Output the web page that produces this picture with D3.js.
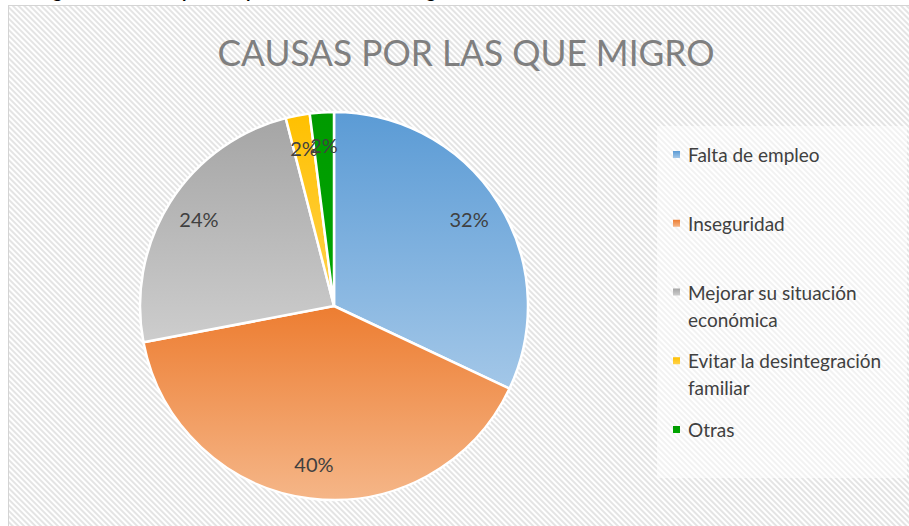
<!DOCTYPE html>
<html>
<head>
<meta charset="utf-8">
<script src="https://cdn.jsdelivr.net/npm/d3@7"></script>
<style>
  body { margin: 0; background: #fff; }
</style>
</head>
<body>
<div id="d3-container"></div>
<script>
const categories = ["Falta de empleo", "Inseguridad", "Mejorar su situación económica", "Evitar la desintegración familiar", "Otras"];
const values = [32, 40, 24, 2, 2];
const legendLines = [["Falta de empleo"], ["Inseguridad"], ["Mejorar su situación", "económica"], ["Evitar la desintegración", "familiar"], ["Otras"]];
const colorsTop = ["#5b9bd5", "#ed7d31", "#a5a5a5", "#ffc000", "#009a00"];
const colorsBottom = ["#a3c7e8", "#f5b688", "#cdcdcd", "#ffd24d", "#00a600"];
const title = "CAUSAS POR LAS QUE MIGRO";

function buildPie() {
    const width = 909;
    const height = 526;
    let dimensions = {
        cx: 334,
        cy: 306,
        radius: 194,
        labelRadius: 160
    };

    const svg = d3.select("#d3-container")
        .append("svg")
        .attr("width", width)
        .attr("height", height);

    const defs = svg.append("defs");

    // hatched chart background
    const pattern = defs.append("pattern")
        .attr("id", "hatch")
        .attr("patternUnits", "userSpaceOnUse")
        .attr("width", 4)
        .attr("height", 4)
        .attr("patternTransform", "rotate(-45)");
    pattern.append("rect").attr("width", 4).attr("height", 4).attr("fill", "#ffffff");
    pattern.append("rect").attr("width", 2).attr("height", 4).attr("fill", "#e4e4e4");

    categories.forEach(function(c, i) {
        const g = defs.append("linearGradient")
            .attr("id", "grad" + i)
            .attr("x1", 0).attr("y1", 0)
            .attr("x2", 0).attr("y2", 1);
        g.append("stop").attr("offset", "0%").attr("stop-color", colorsTop[i]);
        g.append("stop").attr("offset", "100%").attr("stop-color", colorsBottom[i]);
    });

    // clipped caption from the document above the chart
    svg.append("text")
        .attr("x", 38)
        .attr("y", -2)
        .attr("font-family", "Lato")
        .attr("font-weight", "bold")
        .attr("font-size", 18)
        .attr("fill", "#000")
        .text("Figura 7. Motivos por los que los encuestados migraron");

    svg.append("rect")
        .attr("x", 8.5)
        .attr("y", 5.5)
        .attr("width", 930)
        .attr("height", 540)
        .attr("fill", "url(#hatch)")
        .attr("stroke", "#d4d4d4");

    svg.append("text")
        .attr("x", 466)
        .attr("y", 66)
        .attr("text-anchor", "middle")
        .attr("font-family", "Lato")
        .attr("font-size", 36)
        .attr("textLength", 497)
        .attr("lengthAdjust", "spacingAndGlyphs")
        .attr("fill", "#7f7f7f")
        .text(title);

    // pie
    const pie = d3.pie().sort(null).value(function(d) { return d; });
    const arc = d3.arc().innerRadius(0).outerRadius(dimensions.radius);
    const labelArc = d3.arc().innerRadius(dimensions.labelRadius).outerRadius(dimensions.labelRadius);
    const arcs = pie(values);

    const chart = svg.append("g")
        .attr("transform", "translate(" + dimensions.cx + "," + dimensions.cy + ")");

    chart.selectAll("path")
        .data(arcs)
        .enter()
        .append("path")
            .attr("d", arc)
            .attr("fill", function(d, i) { return "url(#grad" + i + ")"; })
            .attr("stroke", "#ffffff")
            .attr("stroke-width", 2.5)
            .attr("stroke-linejoin", "round");

    chart.selectAll(".pct")
        .data(arcs)
        .enter()
        .append("text")
            .attr("class", "pct")
            .attr("transform", function(d) { return "translate(" + labelArc.centroid(d) + ")"; })
            .attr("dy", "0.35em")
            .attr("text-anchor", "middle")
            .attr("font-family", "Lato")
            .attr("font-size", 20)
            .attr("fill", "#404040")
            .text(function(d) { return Math.round(d.data) + "%"; });

    // legend
    svg.append("rect")
        .attr("x", 657)
        .attr("y", 126)
        .attr("width", 250)
        .attr("height", 352)
        .attr("fill", "#ffffff")
        .attr("opacity", 0.5);

    const ly = d3.scaleLinear().domain([0, categories.length - 1]).range([162, 437]);

    const item = svg.selectAll(".legend")
        .data(legendLines)
        .enter()
        .append("g")
            .attr("class", "legend")
            .attr("transform", function(d, i) { return "translate(673," + ly(i) + ")"; });

    item.append("rect")
        .attr("x", 0)
        .attr("y", -11)
        .attr("width", 7)
        .attr("height", 7)
        .attr("fill", function(d, i) { return "url(#grad" + i + ")"; });

    item.append("text")
        .attr("font-family", "Lato")
        .attr("font-size", 19)
        .attr("fill", "#404040")
        .selectAll("tspan")
        .data(function(d) { return d; })
        .enter()
        .append("tspan")
            .attr("x", 15)
            .attr("y", function(d, j) { return j * 27; })
            .text(function(d) { return d; });
}

buildPie();
</script>
</body>
</html>
